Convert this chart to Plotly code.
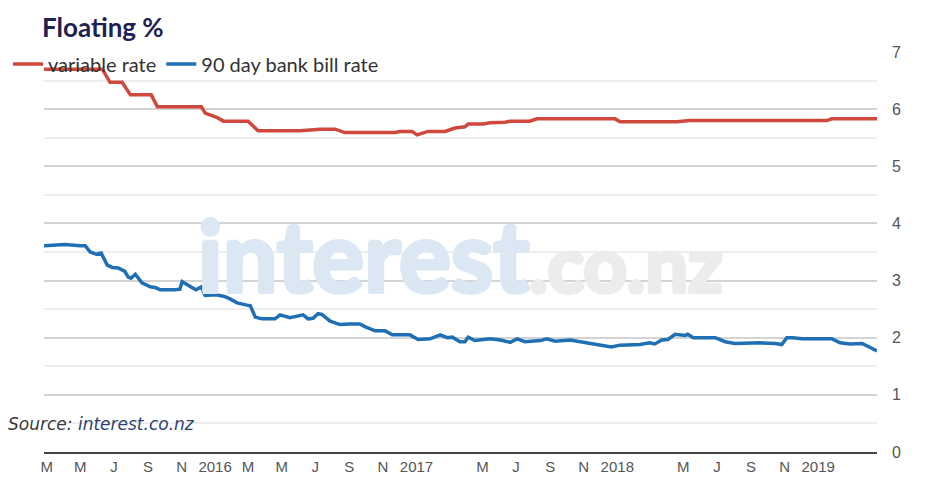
import plotly.graph_objects as go

# Floating variable mortgage rate (%)
variable_dates = [
    "2015-02-24", "2015-06-10", "2015-06-24", "2015-07-16", "2015-07-31", "2015-09-07",
    "2015-09-18", "2015-12-07", "2015-12-14", "2016-01-05", "2016-01-16", "2016-03-01",
    "2016-03-19", "2016-06-03", "2016-07-10", "2016-08-06", "2016-08-24", "2016-11-23",
    "2016-12-02", "2016-12-24", "2017-01-02", "2017-01-22", "2017-02-22", "2017-03-12",
    "2017-03-30", "2017-04-05", "2017-05-02", "2017-05-15", "2017-06-11", "2017-06-20",
    "2017-07-26", "2017-08-08", "2017-12-28", "2018-01-06", "2018-04-19", "2018-05-13",
    "2019-01-17", "2019-01-26", "2019-04-18",
]
variable_rate = [
    6.70, 6.70, 6.47, 6.47, 6.25, 6.25,
    6.04, 6.04, 5.93, 5.85, 5.79, 5.79,
    5.62, 5.62, 5.65, 5.65, 5.59, 5.59,
    5.61, 5.61, 5.55, 5.61, 5.61, 5.67,
    5.69, 5.74, 5.74, 5.76, 5.77, 5.79,
    5.79, 5.83, 5.83, 5.78, 5.78, 5.80,
    5.80, 5.83, 5.83,
]

# 90 day bank bill rate (%)
bill_dates = [
    "2015-02-24", "2015-03-25", "2015-04-03", "2015-05-01", "2015-05-10", "2015-05-19",
    "2015-05-30", "2015-06-08", "2015-06-19", "2015-06-28", "2015-07-09", "2015-07-21",
    "2015-07-27", "2015-08-01", "2015-08-09", "2015-08-21", "2015-09-05", "2015-09-14",
    "2015-09-23", "2015-10-20", "2015-10-29", "2015-11-02", "2015-11-17", "2015-11-27",
    "2015-12-07", "2015-12-14", "2016-01-03", "2016-01-19", "2016-01-28", "2016-02-10",
    "2016-02-28", "2016-03-05", "2016-03-14", "2016-03-26", "2016-04-19", "2016-04-28",
    "2016-05-16", "2016-06-09", "2016-06-18", "2016-06-27", "2016-07-06", "2016-07-13",
    "2016-07-28", "2016-08-15", "2016-09-02", "2016-09-20", "2016-09-30", "2016-10-18",
    "2016-11-05", "2016-11-18", "2016-12-20", "2017-01-04", "2017-01-26", "2017-02-13",
    "2017-02-26", "2017-03-07", "2017-03-21", "2017-03-30", "2017-04-05", "2017-04-17",
    "2017-05-15", "2017-06-02", "2017-06-20", "2017-07-03", "2017-07-17", "2017-08-14",
    "2017-08-26", "2017-09-10", "2017-10-07", "2017-10-25", "2017-11-21", "2017-12-21",
    "2018-01-06", "2018-02-11", "2018-03-01", "2018-03-10", "2018-03-23", "2018-04-03",
    "2018-04-16", "2018-05-04", "2018-05-09", "2018-05-19", "2018-06-28", "2018-07-16",
    "2018-08-03", "2018-09-17", "2018-10-15", "2018-10-27", "2018-11-05", "2018-11-16",
    "2018-12-03", "2019-01-26", "2019-02-10", "2019-02-28", "2019-03-22", "2019-04-05",
    "2019-04-18",
]
bill_rate = [
    3.61, 3.62, 3.63, 3.61, 3.61, 3.50,
    3.46, 3.48, 3.27, 3.23, 3.22, 3.16,
    3.06, 3.04, 3.11, 2.96, 2.89, 2.88,
    2.84, 2.84, 2.85, 2.98, 2.89, 2.84,
    2.89, 2.74, 2.75, 2.72, 2.68, 2.61,
    2.57, 2.56, 2.36, 2.33, 2.33, 2.40,
    2.35, 2.40, 2.33, 2.34, 2.42, 2.41,
    2.29, 2.23, 2.24, 2.24, 2.19, 2.12,
    2.12, 2.05, 2.05, 1.97, 1.98, 2.05,
    2.00, 2.01, 1.93, 1.93, 2.01, 1.95,
    1.98, 1.96, 1.92, 1.98, 1.93, 1.95,
    1.98, 1.94, 1.96, 1.93, 1.89, 1.84,
    1.87, 1.88, 1.91, 1.89, 1.96, 1.97,
    2.06, 2.04, 2.06, 2.00, 2.00, 1.93,
    1.90, 1.91, 1.90, 1.88, 2.00, 2.00,
    1.98, 1.98, 1.91, 1.89, 1.90, 1.84,
    1.77,
]

tick_dates = [
    "2015-03-01", "2015-05-01", "2015-07-01", "2015-09-01", "2015-11-01",
    "2016-01-01", "2016-03-01", "2016-05-01", "2016-07-01", "2016-09-01", "2016-11-01",
    "2017-01-01", "2017-05-01", "2017-07-01", "2017-09-01", "2017-11-01",
    "2018-01-01", "2018-05-01", "2018-07-01", "2018-09-01", "2018-11-01",
    "2019-01-01",
]
tick_labels = [
    "M", "M", "J", "S", "N",
    "2016", "M", "M", "J", "S", "N",
    "2017", "M", "J", "S", "N",
    "2018", "M", "J", "S", "N",
    "2019",
]

RED = "#d0483c"
BLUE = "#1f6fb4"

# the page puts the figure 8px in from the top-left corner
W, H = 927, 479


def heavy(color):
    # fake a black weight for the watermark by stacking small text shadows
    offs = [(2, 0), (-2, 0), (0, 2), (0, -2), (1.5, 1.5), (-1.5, -1.5), (1.5, -1.5), (-1.5, 1.5)]
    return ",".join(f"{dx}px {dy}px 0 {color}" for dx, dy in offs)


fig = go.Figure()

fig.add_trace(go.Scatter(
    x=variable_dates, y=variable_rate, name="variable rate",
    mode="lines", line=dict(color=RED, width=3.5),
))
fig.add_trace(go.Scatter(
    x=bill_dates, y=bill_rate, name="90 day bank bill rate",
    mode="lines", line=dict(color=BLUE, width=3.5),
))

# watermark
fig.add_annotation(
    xref="paper", yref="paper", x=(460 - 44) / 833, y=(452 - 254) / 400,
    xanchor="center", yanchor="middle",
    text=(f"<span style='color:#dce7f4;font-weight:bold;text-shadow:{heavy('#dce7f4')}'>interest</span>"
          f"<span style='color:#ececec;font-weight:bold;font-size:76px;text-shadow:{heavy('#ececec')}'>.co.nz</span>"),
    showarrow=False, font=dict(family="Lato", size=97, weight="bold"),
)

# source note
fig.add_annotation(
    xref="paper", yref="paper", x=-38 / 833, y=28 / 400, xanchor="left", yanchor="middle",
    text="<i>Source: <span style='color:#2c4170'>interest.co.nz</span></i>",
    showarrow=False, font=dict(family="DejaVu Sans", size=17, color="#3a3a3a"),
)

fig.update_layout(
    width=W, height=H,
    margin=dict(l=36, r=58, t=44, b=35, autoexpand=False),
    paper_bgcolor="white", plot_bgcolor="white",
    title=dict(
        text="<b>Floating %</b>", xref="container", yref="container",
        x=34 / W, y=1 - 20 / H, xanchor="left", yanchor="middle",
        font=dict(family="Lato", size=26, color="#1f2150"),
    ),
    legend=dict(
        orientation="h", xref="container", yref="container",
        x=0.0, y=1 - 56 / H, xanchor="left", yanchor="middle",
        font=dict(family="Lato", size=20, color="#333333"),
        bgcolor="rgba(0,0,0,0)", itemwidth=30, tracegroupgap=0,
    ),
    showlegend=True,
    xaxis=dict(
        type="date", range=["2015-02-24", "2019-04-18"],
        tickvals=tick_dates, ticktext=tick_labels, ticks="",
        showgrid=False, zeroline=False,
        showline=True, linecolor="#444444", linewidth=1.5,
        tickfont=dict(family="Liberation Sans", size=15, color="#555555"),
    ),
    yaxis=dict(
        range=[0, 7], side="right", dtick=1, ticks="",
        showgrid=True, gridcolor="#d4d4d4", gridwidth=1.5,
        minor=dict(dtick=0.5, showgrid=True, gridcolor="#eeeeee", gridwidth=1.5),
        zeroline=False, showline=False,
        ticklabelstandoff=14,
        tickfont=dict(family="Liberation Sans", size=16, color="#555555"),
    ),
)

fig.write_html("out.html")
